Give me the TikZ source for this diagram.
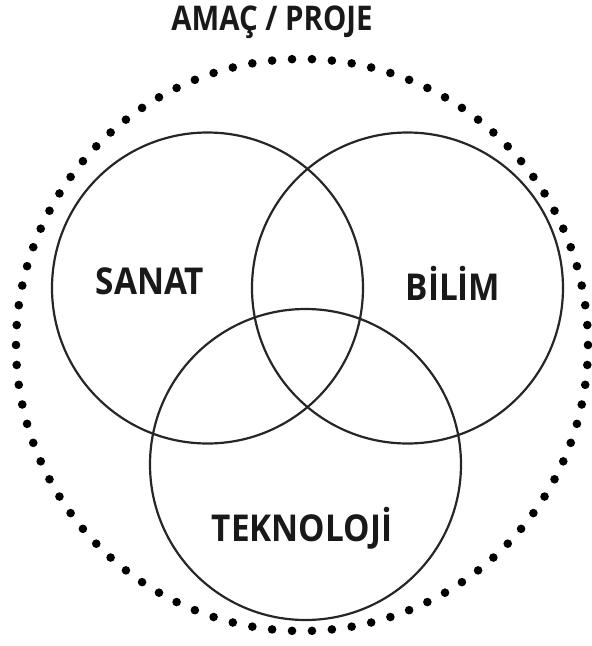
\documentclass[tikz,border=0pt]{standalone}
\usepackage{fontspec}
\newfontfamily\labfont[FakeStretch=0.9]{Open Sans}
\newfontfamily\titfont[FakeStretch=0.865]{Open Sans}
\tikzset{
  ring/.style={circle, draw=black!85, line width=2.2pt, minimum size=311pt, inner sep=0pt},
  lab/.style={font=\labfont\bfseries\fontsize{37}{39}\selectfont, text=black!90, inner sep=0pt},
  tit/.style={font=\titfont\bfseries\fontsize{34}{36}\selectfont, text=black!90, inner sep=0pt},
  dotc/.style={fill=black}
}
\begin{document}
\begin{tikzpicture}[x=1pt,y=-1pt]
\useasboundingbox (0,0) rectangle (592,646);
\node[tit] (title) at (272,22) {AMAÇ / PROJE};
\coordinate (outer) at (302,345);
\foreach \a in {0,4,...,356} {
  \fill[dotc] (outer) ++(\a:286) circle (4.3);
}
\node[ring] (sanat) at (207.5,288) {};
\node[ring] (bilim) at (407.5,288) {};
\node[ring] (tek) at (305.5,464.5) {};
\node[lab] (l1) at (150,281) {SANAT};
\node[lab] (l2) at (453,283) {BİLİM};
\node[lab] (l3) at (302,528) {TEKNOLOJİ};
\end{tikzpicture}
\end{document}
